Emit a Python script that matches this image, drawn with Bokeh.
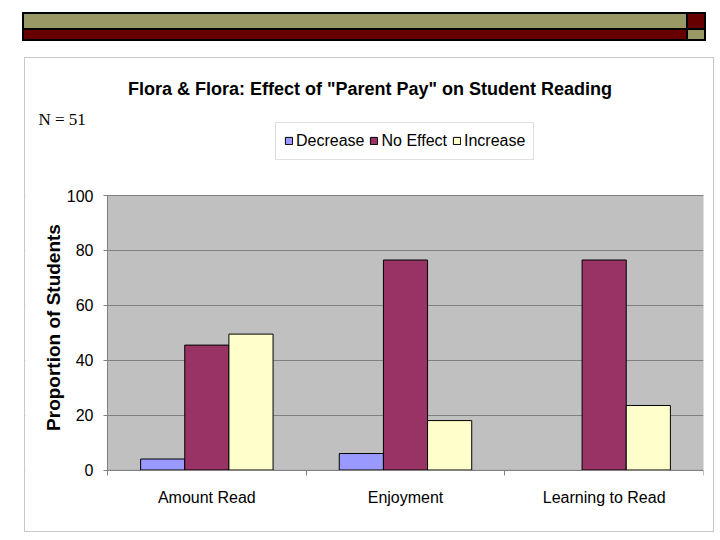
import math
from bokeh.plotting import figure
from bokeh.models import (Range1d, FixedTicker, ColumnDataSource, Legend, LegendItem,
                          Label, Div, BoxAnnotation)
from bokeh.layouts import column
from bokeh.transform import dodge
from bokeh.embed import file_html
from bokeh.resources import INLINE

# ---- data ----
categories = ["Amount Read", "Enjoyment", "Learning to Read"]
series = ["Decrease", "No Effect", "Increase"]
decrease = [4, 6, 0]
no_effect = [45.5, 76.5, 76.5]
increase = [49.5, 18, 23.5]
y_ticks = [0, 20, 40, 60, 80, 100]
title_text = 'Flora & Flora: Effect of "Parent Pay" on Student Reading'
n_text = "N = 51"
y_label = "Proportion of Students"

colors = ["#9999FF", "#993366", "#FFFFCC"]
SANS = "Liberation Sans"

xc = [i + 0.5 for i in range(len(categories))]
src = ColumnDataSource(dict(
    x=xc, dec=decrease, ne=no_effect, inc=increase,
    dec_la=[1 if v > 0 else 0 for v in decrease],
    ne_la=[1 if v > 0 else 0 for v in no_effect],
    inc_la=[1 if v > 0 else 0 for v in increase],
))

n_cat = len(categories)
y_top = y_ticks[-1]
# the frame covers the whole chart box so that every text sits inside it;
# the plot area itself spans x 0..n_cat and y 0..100
x_left = -n_cat * 82 / 596
y_bottom = -y_top * 63.5 / 274.5
y_max = y_top * 411.5 / 274.5
p = figure(width=690, height=475, x_range=Range1d(x_left, n_cat),
           y_range=Range1d(y_bottom, y_max), output_backend="svg", toolbar_location=None,
           min_border_left=0, min_border_right=12, min_border_top=0,
           min_border_bottom=0, background_fill_color="white",
           border_fill_color="white", outline_line_color=None,
           margin=(0, 0, 0, 24), styles={"border": "1px solid #C8C8C8"})

# plot area background
p.add_layout(BoxAnnotation(left=0, right=n_cat, bottom=0, top=y_top,
                           fill_color="#C0C0C0", fill_alpha=1,
                           line_color="#808080", line_width=1, level="image"))

bw = 2 / 9
r_dec = p.vbar(x=dodge("x", -bw, range=p.x_range), top="dec", width=bw, source=src,
               fill_color=colors[0], line_color="black", line_alpha="dec_la", line_width=1)
r_ne = p.vbar(x=dodge("x", 0, range=p.x_range), top="ne", width=bw, source=src,
              fill_color=colors[1], line_color="black", line_alpha="ne_la", line_width=1)
r_inc = p.vbar(x=dodge("x", bw, range=p.x_range), top="inc", width=bw, source=src,
               fill_color=colors[2], line_color="black", line_alpha="inc_la", line_width=1)

# x axis, drawn at y = 0 inside the frame
xa = p.xaxis[0]
xa.fixed_location = 0
xa.ticker = FixedTicker(ticks=xc, minor_ticks=list(range(n_cat + 1)))
xa.bounds = (0, n_cat)
xa.major_label_overrides = {x: c for x, c in zip(xc, categories)}
xa.major_tick_line_color = None
xa.major_tick_out = 0
xa.major_tick_in = 0
xa.minor_tick_line_color = "#808080"
xa.minor_tick_out = 5
xa.minor_tick_in = 0
xa.axis_line_color = "#808080"
xa.major_label_text_font = SANS
xa.major_label_text_font_size = "16px"
xa.major_label_text_color = "black"
xa.major_label_standoff = 14

# y axis, drawn at x = 0 inside the frame
ya = p.yaxis[0]
ya.fixed_location = 0
ya.ticker = FixedTicker(ticks=y_ticks)
ya.bounds = (0, y_top)
ya.minor_tick_line_color = None
ya.major_tick_in = 0
ya.major_tick_out = 4
ya.major_tick_line_color = "#808080"
ya.axis_line_color = "#808080"
ya.major_label_text_font = SANS
ya.major_label_text_font_size = "16px"
ya.major_label_text_color = "black"
ya.major_label_standoff = 10

p.xgrid.visible = False
p.ygrid.grid_line_color = "#808080"
p.ygrid.grid_line_width = 1
# keep grid lines off the area left of the plot area
p.add_layout(BoxAnnotation(right=0, fill_color="white", fill_alpha=1,
                           line_color=None, level="underlay"))

# texts (screen units relative to the frame's bottom-left)
p.add_layout(Label(x=28, y=206, x_units="screen", y_units="screen", text=y_label,
                   angle=math.pi / 2, text_align="center", text_baseline="middle",
                   text_font=SANS, text_font_size="19px", text_font_style="bold",
                   text_color="black"))
p.add_layout(Label(x=344.5, y=445, x_units="screen", y_units="screen", text=title_text,
                   text_align="center", text_baseline="middle", text_font=SANS,
                   text_font_size="18px", text_font_style="bold", text_color="black"))
p.add_layout(Label(x=13, y=414, x_units="screen", y_units="screen", text=n_text,
                   text_align="left", text_baseline="middle",
                   text_font="Liberation Serif", text_font_size="17px",
                   text_color="black"))

legend = Legend(items=[LegendItem(label=series[0], renderers=[r_dec], index=0),
                       LegendItem(label=series[1], renderers=[r_ne], index=0),
                       LegendItem(label=series[2], renderers=[r_inc], index=0)],
                location=(250, 373.5), orientation="horizontal",
                glyph_width=9, glyph_height=9, label_standoff=3, spacing=5,
                padding=8, margin=0, label_height=20,
                label_text_font=SANS, label_text_font_size="16px",
                label_text_color="black", border_line_color="#C0C0C0",
                background_fill_color="white", background_fill_alpha=1)
p.add_layout(legend, "center")

olive = "#999966"
maroon = "#660000"
html = f"""<div style="position:relative;width:712px;height:57px;">
<div style="position:absolute;left:22px;top:12px;width:684px;height:29px;background:#000;"></div>
<div style="position:absolute;left:24px;top:14px;width:662px;height:14px;background:{olive};"></div>
<div style="position:absolute;left:24px;top:30px;width:662px;height:9px;background:{maroon};"></div>
<div style="position:absolute;left:688px;top:14px;width:16px;height:14px;background:{maroon};"></div>
<div style="position:absolute;left:688px;top:30px;width:16px;height:9px;background:{olive};"></div>
</div>"""
div = Div(text=html, width=712, height=57, margin=(0, 0, 0, 0))

layout = column(div, p, spacing=0)
open("out.html", "w").write(file_html(layout, INLINE))
